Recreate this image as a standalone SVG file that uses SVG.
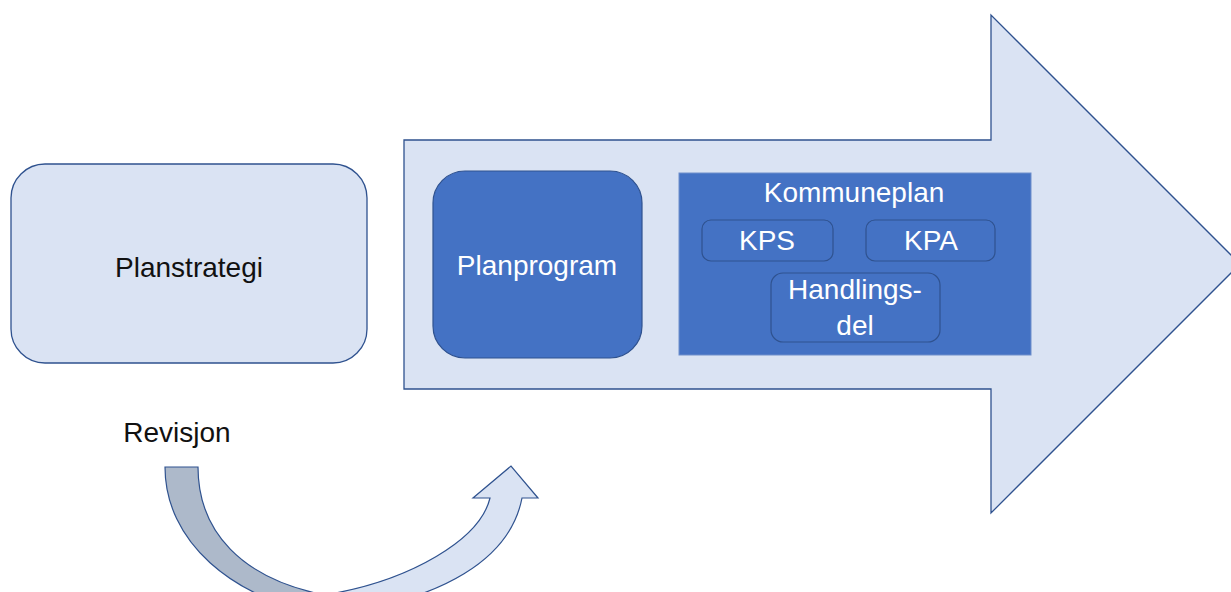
<svg xmlns="http://www.w3.org/2000/svg" width="1231" height="592" viewBox="0 0 1231 592">
<style>
.light{fill:#DAE3F3;stroke:#2F528F;stroke-width:1.3}
.dark{fill:#4472C4;stroke:#2F528F;stroke-width:1.2}
.t{font-family:"Liberation Sans",Arial,sans-serif;font-size:28px;text-anchor:middle}
.w{fill:#FFFFFF}
.k{fill:#111111}
</style>
<rect width="1231" height="592" fill="#FFFFFF"/>
<g id="process-arrow">
<path class="light" d="M404,140 L991,140 L991,15 L1240,264 L991,513 L991,389 L404,389 Z"/>
</g>
<g id="planstrategi">
<rect class="light" x="11" y="164" width="356" height="199" rx="34"/>
<text class="t k" x="189" y="277">Planstrategi</text>
</g>
<g id="planprogram">
<rect class="dark" x="433" y="171" width="209" height="187" rx="32"/>
<text class="t w" x="537" y="275">Planprogram</text>
</g>
<g id="kommuneplan">
<rect x="679" y="173" width="352" height="182" fill="#4472C4" stroke="#6F8FCB" stroke-width="1"/>
<text class="t w" x="854" y="202">Kommuneplan</text>
</g>
<g id="kps">
<rect class="dark" x="702" y="220" width="131" height="41" rx="9"/>
<text class="t w" x="767" y="250">KPS</text>
</g>
<g id="kpa">
<rect class="dark" x="866" y="220" width="129" height="41" rx="9"/>
<text class="t w" x="931" y="250">KPA</text>
</g>
<g id="handlingsdel">
<rect class="dark" x="771" y="273" width="169" height="69" rx="12"/>
<text class="t w" x="855" y="299">Handlings-</text>
<text class="t w" x="855" y="335">del</text>
</g>
<g id="revisjon-label">
<text class="t k" x="177" y="442">Revisjon</text>
</g>
<g id="connectors">
<path d="M165,467 L198,467 C198,530 240,580 330,596 L330,615 C230,600 165,540 165,467 Z" fill="#ADB9CA" stroke="#2F528F" stroke-width="1.2"/>
<path d="M330,594 C410,580 480,540 490,498 L473,498 L511,466 L538,498 L522,498 C510,560 440,600 340,612 Z" fill="#DAE3F3" stroke="#2F528F" stroke-width="1.2"/>
</g>
</svg>
